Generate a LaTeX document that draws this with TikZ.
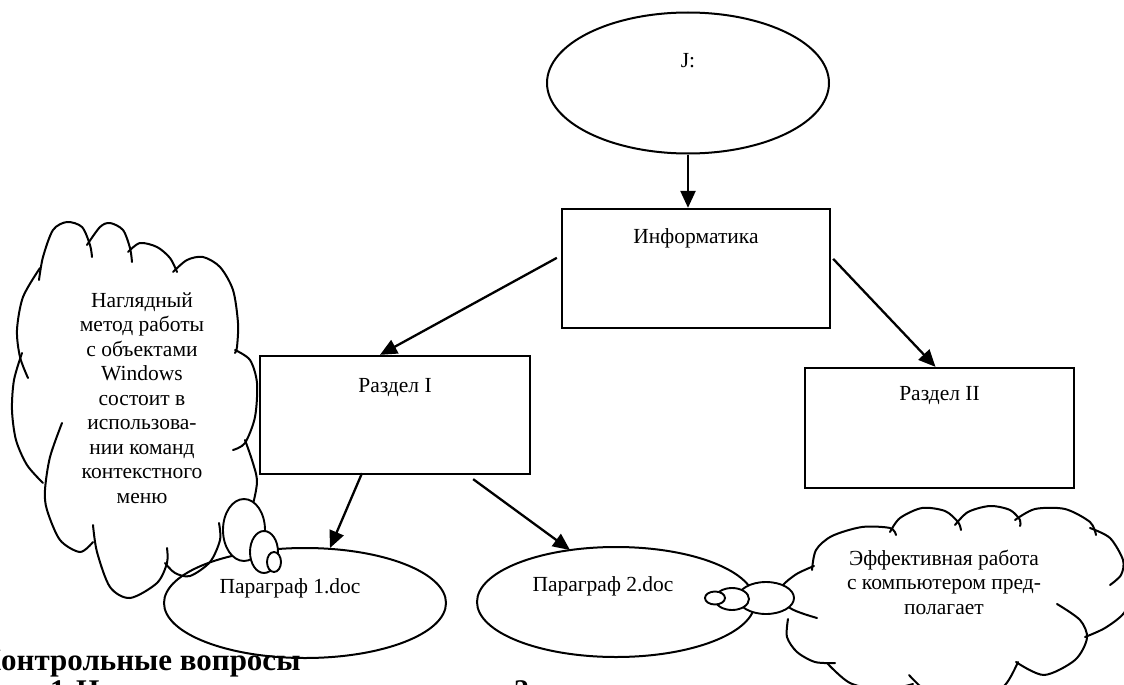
\documentclass[tikz,border=0pt]{standalone}
\usepackage{fontspec}
\setmainfont{Liberation Serif}
\usetikzlibrary{arrows.meta,shapes.geometric,calc}
\begin{document}
\begin{tikzpicture}[x=1pt,y=-1pt,
  box/.style={draw,line width=2.3pt,inner sep=0pt},
  oval/.style={draw,ellipse,line width=2pt,inner sep=0pt},
  bub/.style={draw,ellipse,line width=1.9pt,fill=white,inner sep=0pt},
  lobe/.style={line width=2pt,line cap=round},
  arr/.style={line width=2.3pt,-{Triangle[length=17pt,width=15pt]}},
  txt/.style={inner sep=0pt,font=\fontsize{21.5}{24.5}\selectfont,align=center},
  qtxt/.style={anchor=base west,inner sep=0pt,font=\bfseries\fontsize{30}{36}\selectfont},
]
\useasboundingbox (0,0) rectangle (1124,685);
\clip (0,0) rectangle (1124,685);

% ---------- left cloud ----------
\draw[lobe] plot[smooth] coordinates {(39,280) (43,257) (53,230) (67,222) (82,227) (90,245) (92,257)};
\draw[lobe] plot[smooth] coordinates {(87,245) (100,227) (110,223) (123,230) (130,248) (132,262)};
\draw[lobe] plot[smooth] coordinates {(128,252) (140,243) (157,247) (170,258) (177,272)};
\draw[lobe] plot[smooth] coordinates {(173,272) (187,260) (203,257) (220,267) (233,290) (238,323) (237,347) (235,353)};
\draw[lobe] plot[smooth] coordinates {(235,350) (250,360) (257,383) (255,417) (245,443) (233,450)};
\draw[lobe] plot[smooth] coordinates {(245,440) (252,460) (257,480) (254,500) (248,520)};
\draw[lobe] plot[smooth] coordinates {(219,523) (220,540) (210,562) (190,576) (175,573) (165,563)};
\draw[lobe] plot[smooth] coordinates {(93,525) (97,552) (110,587) (130,598) (157,583) (167,563) (167,548)};
\draw[lobe] plot[smooth] coordinates {(62,423) (50,457) (45,490) (47,510) (60,540) (80,552) (93,542)};
\draw[lobe] plot[smooth] coordinates {(22,353) (14,380) (12,410) (16,440) (27,465) (43,483)};
\draw[lobe] plot[smooth] coordinates {(40,268) (23,297) (17,330) (20,357) (28,378)};

% ---------- right cloud ----------
\draw[lobe] plot[smooth] coordinates {(814,566) (795,575) (780,590) (790,608) (817,618)};
\draw[lobe] plot[smooth] coordinates {(812,570) (816,550) (832,536) (862,527) (890,528) (896,535)};
\draw[lobe] plot[smooth] coordinates {(890,532) (900,518) (922,508) (945,511) (958,522) (961,530)};
\draw[lobe] plot[smooth] coordinates {(955,525) (968,512) (990,506) (1010,510) (1020,520) (1020,526)};
\draw[lobe] plot[smooth] coordinates {(1015,520) (1035,509) (1065,509) (1090,522) (1096,535)};
\draw[lobe] plot[smooth] coordinates {(1090,528) (1110,538) (1123,560) (1121,575) (1110,585)};
\draw[lobe] plot[smooth] coordinates {(1085,637) (1105,628) (1124,613) (1135,590)};
\draw[lobe] plot[smooth] coordinates {(1057,604) (1080,620) (1087,638) (1075,660) (1044,675) (1016,662)};
\draw[lobe] plot[smooth] coordinates {(909,675) (925,690) (950,700) (980,700) (1005,685) (1018,662)};
\draw[lobe] plot[smooth] coordinates {(827,663) (850,683) (883,690) (913,684)};
\draw[lobe] plot[smooth] coordinates {(788,619) (787,637) (797,652) (815,662) (835,663)};

% ---------- shapes ----------
\node[oval,minimum width=282,minimum height=141] (jdisk) at (688,83) {};
\node[box,minimum width=268,minimum height=119] (info) at (696,268.5) {};
\node[box,minimum width=270,minimum height=118] (razd1) at (395,415) {};
\node[box,minimum width=269,minimum height=120] (razd2) at (939.5,428) {};
\node[oval,minimum width=282,minimum height=110] (par1) at (305,603) {};
\node[oval,minimum width=278,minimum height=110] (par2) at (616,602) {};

% bubbles
\node[bub,minimum width=42,minimum height=62] (lb1) at (244,530) {};
\node[bub,minimum width=28,minimum height=42] (lb2) at (264,552) {};
\node[bub,minimum width=14,minimum height=20] (lb3) at (274,562) {};
\node[bub,minimum width=56,minimum height=32] (rb1) at (766,598) {};
\node[bub,minimum width=34,minimum height=22] (rb2) at (732,599) {};
\node[bub,minimum width=20,minimum height=13] (rb3) at (715,598) {};

% ---------- texts ----------
\node[txt,anchor=base] (jtxt) at (688,67) {J:};
\node[txt,anchor=base] (infot) at (696,243) {Информатика};
\node[txt,anchor=base] (razd1t) at (395,392) {Раздел I};
\node[txt,anchor=base] (razd2t) at (939.5,400) {Раздел II};
\node[txt,anchor=base] (par1t) at (290,593) {Параграф 1.doc};
\node[txt,anchor=base] (par2t) at (603,591) {Параграф 2.doc};
\node[txt] (lct) at (142,398) {Наглядный\\метод работы\\с объектами\\Windows\\состоит в\\использова-\\нии команд\\контекстного\\меню};
\node[txt] (rct) at (944,582) {Эффективная работа\\с компьютером пред-\\полагает};

\node[anchor=base west,inner sep=0pt,font=\bfseries\fontsize{31}{36}\selectfont] (ctrl) at (1,670) {\llap{К}онтрольные вопросы};
\node[qtxt] (q1) at (50,700) {1.};
\node[qtxt] (qn) at (76,700) {Н};
\node[qtxt] (qq) at (514,700) {?};

% ---------- arrows ----------
\draw[arr] (jdisk.south) -- (jdisk.south |- info.north);
\draw[arr] ($(info.north west)+(-4,50)$) -- ($(razd1.north)+(-15,0)$);
\draw[arr] ($(info.north east)+(2,51)$) -- ($(razd2.north)+(-4,0)$);
\draw[arr] ($(razd1.south)+(-33,-2)$) -- ($(par1.center)+(25,-55)$);
\draw[arr] ($(razd1.south east)+(-58,4)$) -- ($(par2.center)+(-46,-52)$);
\end{tikzpicture}
\end{document}
